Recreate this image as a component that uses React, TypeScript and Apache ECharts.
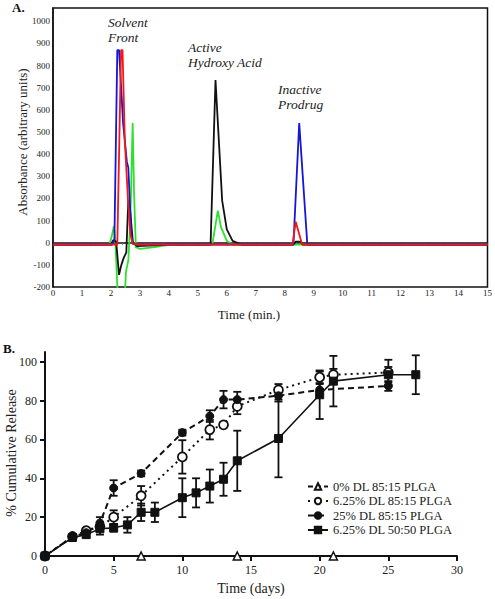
import React, { useEffect, useRef } from "react";
import * as echarts from "echarts";

const FONT = "Liberation Serif";

// ---------- Panel A: chromatogram ----------
const chromXTicks = [0, 1, 2, 3, 4, 5, 6, 7, 8, 9, 10, 11, 12, 13, 14, 15];
const chromYTicks = [-200, -100, 0, 100, 200, 300, 400, 500, 600, 700, 800, 900, 1000];

const greenTrace: [number, number][] = [
  [0, -8], [1.95, -8], [2.03, 30], [2.1, 75], [2.15, 20], [2.22, -200], [2.3, -320],
  [2.45, -320], [2.52, -130], [2.6, -80], [2.67, 100], [2.75, 540], [2.8, 220],
  [2.86, -20], [3.0, -28], [3.5, -20], [4.0, -10], [5.5, -8], [5.69, 145], [5.8, 70],
  [6.0, 8], [6.2, -8], [15, -8],
];
const blackTrace: [number, number][] = [
  [0, -8], [2.0, -8], [2.08, 12], [2.18, 5], [2.28, -145], [2.36, -100], [2.45, -65],
  [2.53, -45], [2.6, 190], [2.66, 150], [2.76, 0], [2.9, -15], [3.5, -12], [4.0, -8],
  [5.44, -8], [5.61, 735], [5.7, 520], [5.84, 190], [6.0, 60], [6.2, 8], [6.5, -8],
  [8.3, -8], [8.38, 5], [8.55, 5], [8.62, -8], [15, -8],
];
const blueTrace: [number, number][] = [
  [0, -8], [2.05, -8], [2.12, 15], [2.22, 870], [2.28, 870], [2.42, 540], [2.55, 365],
  [2.6, 340], [2.7, 40], [2.76, -5], [2.9, -8], [8.3, -8], [8.5, 540], [8.78, -8], [15, -8],
];
const redTrace: [number, number][] = [
  [0, -8], [2.22, -8], [2.35, 870], [2.4, 870], [2.48, 460], [2.59, 190], [2.67, 40],
  [2.75, -5], [2.9, -8], [8.27, -8], [8.38, 95], [8.6, -8], [15, -8],
];

// ---------- Panel B: cumulative release ----------
const releaseXTicks = [0, 5, 10, 15, 20, 25, 30];
const releaseYTicks = [0, 20, 40, 60, 80, 100];
const seriesNames = [
  "0% DL 85:15 PLGA",
  "6.25% DL 85:15 PLGA",
  "25% DL 85:15 PLGA",
  "6.25% DL 50:50 PLGA",
];

const dl0Days = [7, 14, 21];
const dl0Values = [0, 0, 0];

const dl625Days = [0, 2, 3, 4, 5, 7, 10, 12, 13, 14, 17, 20, 21, 25];
const dl625Values = [0, 10, 13, 15, 20, 31, 51, 65, 67.5, 77, 85.5, 92, 93.3, 94.5];
const dl625Errors = [0, 1, 1.5, 2, 3.5, 5, 8.6, 5, 1.5, 4, 3, 3, 3, 6.5];

const dl25Days = [0, 2, 3, 4, 5, 7, 10, 12, 13, 14, 17, 20, 25];
const dl25Values = [0, 10, 12, 17, 35, 42.5, 63.5, 72, 80.5, 80.5, 82.5, 85.5, 87.5];
const dl25Errors = [0, 1, 1, 3, 4, 1.5, 1.5, 3, 4.5, 4, 3, 3, 2.5];

const dl5050Days = [0, 2, 3, 4, 5, 6, 7, 8, 10, 11, 12, 13, 14, 17, 20, 21, 25, 27];
const dl5050Values = [0, 9.5, 11, 14, 14.5, 16, 22.5, 22.5, 30, 32.5, 36, 39.5, 49, 60.5, 83, 90, 93.3, 93.3];
const dl5050Errors = [0, 1, 1.5, 3, 2, 4, 4.5, 5, 10, 7.5, 8.5, 8.5, 15.5, 20, 12.5, 13, 4, 10];

function pairs(xs: number[], ys: number[]) {
  return xs.map((x, i) => [x, ys[i]]);
}
function errRows(xs: number[], ys: number[], es: number[]) {
  return xs
    .map((x, i) => [x, ys[i] - es[i], ys[i] + es[i]])
    .filter((_, i) => es[i] > 0);
}

const errorRender = (params: any, api: any) => {
  const x = api.value(0);
  const lo = api.coord([x, api.value(1)]);
  const hi = api.coord([x, api.value(2)]);
  const w = 4;
  const style = { stroke: "#111", lineWidth: 1.8 };
  return {
    type: "group",
    children: [
      { type: "line", shape: { x1: lo[0], y1: lo[1], x2: hi[0], y2: hi[1] }, style },
      { type: "line", shape: { x1: lo[0] - w, y1: lo[1], x2: lo[0] + w, y2: lo[1] }, style },
      { type: "line", shape: { x1: hi[0] - w, y1: hi[1], x2: hi[0] + w, y2: hi[1] }, style },
    ],
  };
};

const txt = (text: string, size: number, extra: any = {}) => ({
  text,
  fontFamily: FONT,
  fontSize: size,
  fill: "#222",
  ...extra,
});

export default function App() {
  const ref = useRef<HTMLDivElement>(null);
  useEffect(() => {
    document.body.style.margin = "0";
    if (!ref.current) return;
    const chart = echarts.init(ref.current, undefined, { renderer: "svg" });

    const chromLine = (data: [number, number][], color: string, z: number) => ({
      type: "line",
      xAxisIndex: 0,
      yAxisIndex: 0,
      data,
      showSymbol: false,
      symbol: "none",
      lineStyle: { color, width: 1.8 },
      z,
      silent: true,
    });

    const errSeries = (data: number[][]) => ({
      type: "custom",
      xAxisIndex: 1,
      yAxisIndex: 1,
      data,
      encode: { x: 0, y: [1, 2] },
      renderItem: errorRender,
      z: 2,
      clip: false,
      silent: true,
    });

    const plain = (v: number) => String(v);

    chart.setOption({
      animation: false,
      textStyle: { fontFamily: FONT },
      grid: [
        { left: 53, right: 7, top: 8, bottom: 312, show: true, borderColor: "#111", borderWidth: 1.5, backgroundColor: "transparent" },
        { left: 45, right: 38, top: 352, bottom: 43 },
      ],
      xAxis: [
        {
          gridIndex: 0,
          type: "value",
          min: 0,
          max: 15,
          interval: 1,
          axisLine: { show: true, lineStyle: { color: "#111", width: 1.5 } },
          axisTick: { show: true, inside: false, length: 3, lineStyle: { color: "#444", width: 1 } },
          minorTick: { show: true, splitNumber: 5, length: 2, lineStyle: { color: "#666", width: 1 } },
          splitLine: { show: false },
          axisLabel: { show: true, fontSize: 9, color: "#222", fontFamily: FONT, margin: 1, customValues: chromXTicks, formatter: plain },
        },
        {
          gridIndex: 1,
          type: "value",
          min: 0,
          max: 30,
          interval: 5,
          axisLine: { show: true, onZero: false, lineStyle: { color: "#111", width: 2 } },
          axisTick: { show: true, inside: false, length: 5, lineStyle: { color: "#111", width: 2 } },
          splitLine: { show: false },
          axisLabel: { show: true, fontSize: 12, color: "#222", fontFamily: FONT, margin: 8, customValues: releaseXTicks, formatter: plain },
        },
      ],
      yAxis: [
        {
          gridIndex: 0,
          type: "value",
          min: -200,
          max: 1060,
          interval: 100,
          axisLine: { show: true, lineStyle: { color: "#111", width: 1.5 } },
          axisTick: { show: false },
          splitLine: { show: false },
          axisLabel: { show: true, fontSize: 9, color: "#222", fontFamily: FONT, margin: 3, customValues: chromYTicks, formatter: plain },
        },
        {
          gridIndex: 1,
          type: "value",
          min: 0,
          max: 105,
          interval: 20,
          axisLine: { show: true, onZero: false, lineStyle: { color: "#111", width: 2 } },
          axisTick: { show: true, inside: false, length: 5, lineStyle: { color: "#111", width: 2 }, customValues: releaseYTicks },
          splitLine: { show: false },
          axisLabel: { show: true, fontSize: 12, color: "#222", fontFamily: FONT, margin: 8, customValues: releaseYTicks, formatter: plain },
        },
      ],
      legend: {
        orient: "vertical",
        left: 302,
        top: 475,
        itemWidth: 20,
        itemHeight: 8,
        itemGap: 1.5,
        data: seriesNames,
        textStyle: { fontFamily: FONT, fontSize: 12.5, color: "#222" },
        selectedMode: false,
      },
      graphic: [
        { type: "text", left: 12, top: 1, style: txt("A.", 13, { fontWeight: "bold", fill: "#111" }) },
        { type: "text", left: 3, top: 342, style: txt("B.", 13, { fontWeight: "bold", fill: "#111" }) },
        {
          type: "text", x: 108, y: 14.5,
          style: txt("Solvent\nFront", 13.5, { fontStyle: "italic", lineHeight: 15, align: "left", verticalAlign: "top" }),
        },
        {
          type: "text", x: 188, y: 39.5,
          style: txt("Active\nHydroxy Acid", 13.5, { fontStyle: "italic", lineHeight: 15, align: "left", verticalAlign: "top" }),
        },
        {
          type: "text", x: 278, y: 81.5,
          style: txt("Inactive\nProdrug", 13.5, { fontStyle: "italic", lineHeight: 15, align: "left", verticalAlign: "top" }),
        },
        {
          type: "text", x: 22, y: 142, rotation: Math.PI / 2,
          style: txt("Absorbance (arbitrary units)", 13, { align: "center", verticalAlign: "middle" }),
        },
        {
          type: "text", x: 249, y: 314,
          style: txt("Time (min.)", 13, { align: "center", verticalAlign: "middle" }),
        },
        {
          type: "text", x: 11, y: 453, rotation: Math.PI / 2,
          style: txt("% Cumulative Release", 14, { align: "center", verticalAlign: "middle" }),
        },
        {
          type: "text", x: 251, y: 588,
          style: txt("Time (days)", 14, { align: "center", verticalAlign: "middle" }),
        },
      ],
      series: [
        chromLine(greenTrace, "#2ee02e", 2),
        chromLine(blackTrace, "#111111", 3),
        chromLine(blueTrace, "#1515d8", 4),
        chromLine(redTrace, "#f01818", 5),

        errSeries(errRows(dl625Days, dl625Values, dl625Errors)),
        errSeries(errRows(dl25Days, dl25Values, dl25Errors)),
        errSeries(errRows(dl5050Days, dl5050Values, dl5050Errors)),

        {
          name: seriesNames[0],
          type: "line",
          xAxisIndex: 1,
          yAxisIndex: 1,
          data: pairs(dl0Days, dl0Values),
          symbol: "triangle",
          symbolSize: 8,
          itemStyle: { color: "#fff", borderColor: "#111", borderWidth: 1.5 },
          lineStyle: { color: "#111", width: 1.8, type: [5, 3] },
          clip: false,
          z: 6,
        },
        {
          name: seriesNames[1],
          type: "line",
          xAxisIndex: 1,
          yAxisIndex: 1,
          data: pairs(dl625Days, dl625Values),
          symbol: "circle",
          symbolSize: 9,
          itemStyle: { color: "#fff", borderColor: "#111", borderWidth: 1.8 },
          lineStyle: { color: "#111", width: 2, type: [2, 4] },
          clip: false,
          z: 5,
        },
        {
          name: seriesNames[2],
          type: "line",
          xAxisIndex: 1,
          yAxisIndex: 1,
          data: pairs(dl25Days, dl25Values),
          symbol: "circle",
          symbolSize: 8,
          itemStyle: { color: "#111", borderColor: "#111", borderWidth: 1 },
          lineStyle: { color: "#111", width: 2, type: [6, 4] },
          clip: false,
          z: 5,
        },
        {
          name: seriesNames[3],
          type: "line",
          xAxisIndex: 1,
          yAxisIndex: 1,
          data: pairs(dl5050Days, dl5050Values),
          symbol: "rect",
          symbolSize: 8,
          itemStyle: { color: "#111", borderColor: "#111", borderWidth: 1 },
          lineStyle: { color: "#111", width: 1.6, type: "solid" },
          clip: false,
          z: 5,
        },
      ],
    });
    return () => chart.dispose();
  }, []);
  return <div ref={ref} style={{ width: 495, height: 599 }} />;
}
